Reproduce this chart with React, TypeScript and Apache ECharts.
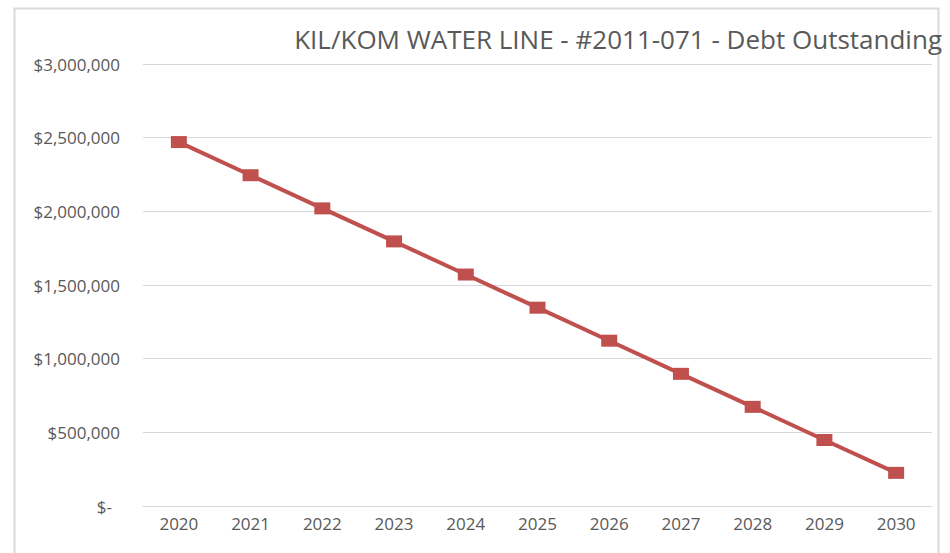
import React, { useEffect, useRef } from "react";
import * as echarts from "echarts";

const years = ["2020", "2021", "2022", "2023", "2024", "2025", "2026", "2027", "2028", "2029", "2030"];
const debtOutstanding = [2470000, 2245000, 2020000, 1796000, 1571000, 1346000, 1122000, 897000, 673000, 448000, 225000];
const titleText = "KIL/KOM WATER LINE - #2011-071 - Debt Outstanding";

const fmt = (v: number) => {
  if (v === 0) return "{z|$-}";
  return "$" + v.toLocaleString("en-US");
};

export default function App() {
  const ref = useRef<HTMLDivElement>(null);
  useEffect(() => {
    if (!ref.current) return;
    const chart = echarts.init(ref.current, null, { renderer: "svg" });
    chart.setOption({
      animation: false,
      backgroundColor: "#ffffff",
      title: {
        text: titleText,
        right: 8,
        top: 26,
        padding: 0,
        textStyle: { fontFamily: "Open Sans", fontSize: 26, fontWeight: "normal", color: "#595959" },
      },
      graphic: [
        {
          type: "rect",
          shape: { x: 14.5, y: 8.5, width: 924, height: 580 },
          style: { fill: "none", stroke: "#d9d9d9", lineWidth: 2 },
          silent: true,
        },
      ],
      grid: { left: 143, right: 18, top: 64, bottom: 47 },
      xAxis: {
        type: "category",
        data: years,
        boundaryGap: true,
        axisLine: { show: true, lineStyle: { color: "#d9d9d9", width: 1 } },
        axisTick: { show: false },
        axisLabel: { color: "#595959", fontFamily: "Open Sans", fontSize: 17, margin: 9 },
      },
      yAxis: {
        type: "value",
        min: 0,
        max: 3000000,
        interval: 500000,
        axisLine: { show: false },
        axisTick: { show: false },
        splitLine: { lineStyle: { color: "#d9d9d9", width: 1 } },
        axisLabel: {
          color: "#595959",
          fontFamily: "Open Sans",
          fontSize: 17,
          margin: 23,
          formatter: fmt,
          rich: { z: { color: "#595959", fontFamily: "Open Sans", fontSize: 17, padding: [0, 8, 0, 0] } },
        },
      },
      series: [
        {
          type: "line",
          data: debtOutstanding,
          symbol: "rect",
          symbolSize: [16, 12],
          lineStyle: { color: "#C0504D", width: 4 },
          itemStyle: { color: "#C0504D" },
        },
      ],
    });
    return () => chart.dispose();
  }, []);
  return (
    <div
      ref={ref}
      style={{ position: "absolute", left: 0, top: 0, width: 950, height: 553 }}
    />
  );
}
